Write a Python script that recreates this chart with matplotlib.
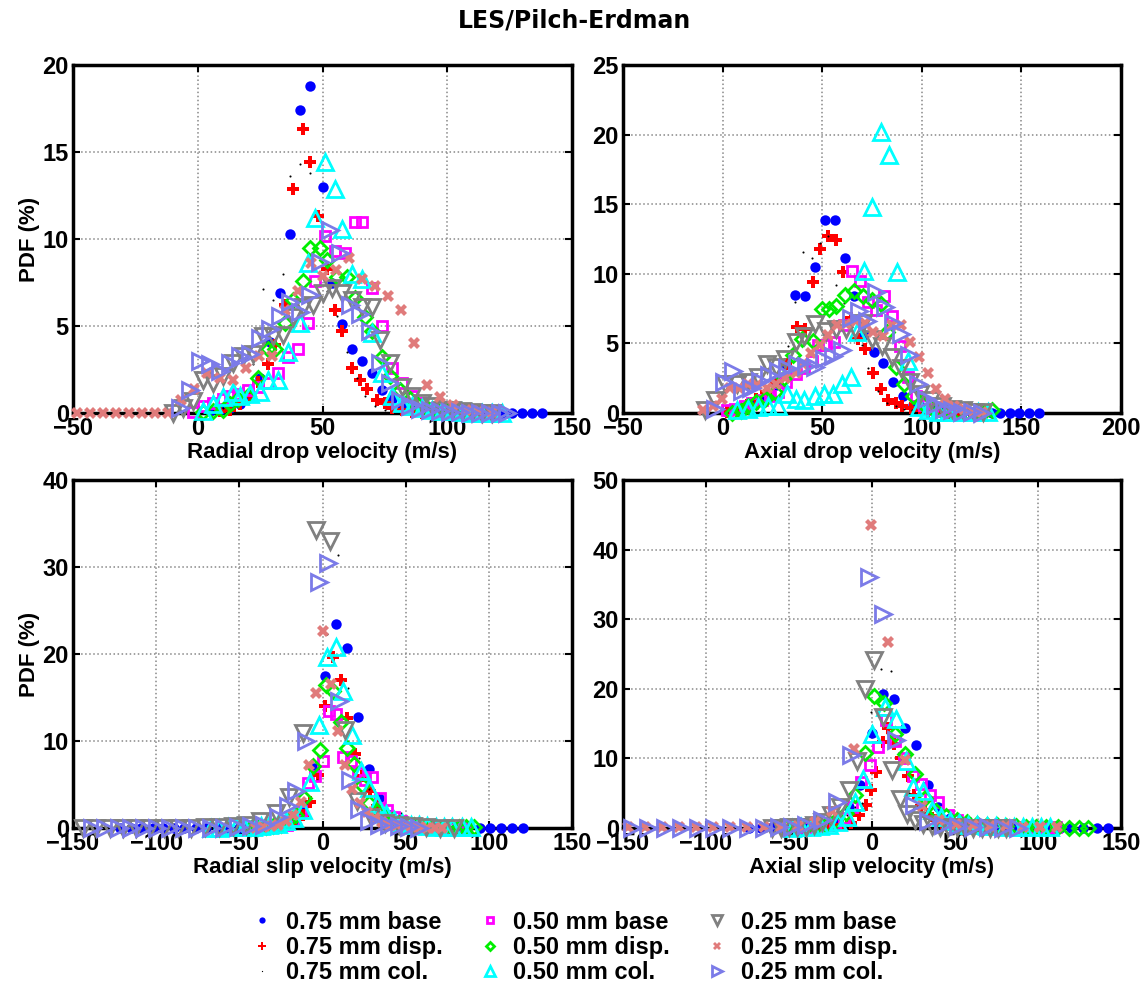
import matplotlib
matplotlib.use("Agg")
import matplotlib.pyplot as plt

plt.rcParams['font.family'] = ['Liberation Sans', 'DejaVu Sans']
plt.rcParams['font.weight'] = 'bold'

labels = ['0.75 mm base', '0.75 mm disp.', '0.75 mm col.',
          '0.50 mm base', '0.50 mm disp.', '0.50 mm col.',
          '0.25 mm base', '0.25 mm disp.', '0.25 mm col.']

# ---- radial drop velocity (top left)
rd_x = [
    [5, 9, 13, 17, 21, 25, 29, 33, 37, 41, 45, 50, 54, 58, 62, 66, 70, 74, 78, 82, 86, 90, 94, 98, 102, 106, 110, 114, 118, 122, 126, 130, 134, 138],
    [9, 13, 17, 21, 24, 28, 31, 35, 38, 42, 45, 48, 52, 55, 58, 62, 65, 68, 72, 75, 78, 82, 86, 90],
    [6, 10, 14, 18, 22, 26, 30, 34, 37, 41, 45, 49, 52, 56, 60, 64, 67, 71, 75, 79],
    [-2, 2, 6, 10, 13, 16, 20, 24, 28, 32, 36, 40, 44, 47, 51, 55, 59, 63, 66, 70, 74, 78, 82, 86, 90, 94, 98, 102, 106, 110, 114, 118],
    [2, 6, 10, 13, 16, 20, 24, 28, 31, 35, 38, 42, 45, 49, 52, 56, 60, 63, 67, 70, 74, 77, 81, 85, 88, 92, 96, 100, 104, 108],
    [2, 6, 10, 14, 17, 21, 25, 28, 32, 36, 41, 44, 47, 51, 55, 58, 62, 66, 70, 74, 78, 82, 86, 90, 94, 98, 102, 106, 110, 114, 118, 122],
    [-10, -6, -2, 2, 6, 10, 14, 18, 22, 26, 30, 34, 38, 42, 46, 50, 54, 58, 62, 66, 70, 73, 77, 82, 86, 90, 94, 98, 102, 106, 110, 114, 118],
    [-48.4, -43.2, -38, -32.8, -27.6, -22.4, -17.2, -12, -6.8, -1.6, 3.6, 8.8, 14, 19.2, 24.4, 29.6, 34.8, 40, 45.2, 50.4, 55.6, 60.8, 66, 71.2, 76.4, 81.6, 86.8, 92, 97.2, 102.4, 107.6, 112.8, 118],
    [-7, -3, 1, 5, 9, 13, 17, 21, 25, 29, 33, 37, 41, 45, 49, 53, 57, 61, 65, 69, 73, 77, 81, 85, 89, 93, 97, 101, 105, 109, 113, 117, 121, 124],
]
rd_y = [
    [0.1, 0.2, 0.3, 0.5, 1.0, 2.0, 4.1, 6.9, 10.3, 17.4, 18.8, 13.0, 7.5, 5.1, 3.7, 3.0, 2.3, 1.3, 0.8, 0.4, 0.2, 0.1, 0.05, 0.05, 0.02, 0, 0, 0, 0, 0, 0, 0, 0, 0],
    [0.1, 0.2, 0.5, 1.0, 1.8, 2.8, 3.9, 6.2, 12.9, 16.3, 14.4, 11.3, 8.3, 5.9, 4.7, 2.6, 1.9, 1.4, 0.75, 0.55, 0.3, 0.15, 0.05, 0.02],
    [0.1, 0.3, 0.6, 1.5, 2.8, 7.1, 6.5, 8.0, 13.6, 14.3, 13.8, 10.0, 7.0, 5.6, 3.5, 2.0, 1.0, 0.4, 0.2, 0.1],
    [0.05, 0.4, 0.6, 0.8, 1.0, 1.1, 1.3, 1.5, 1.7, 2.3, 3.2, 3.7, 5.2, 7.6, 10.2, 9.3, 9.2, 11.0, 11.0, 7.2, 5.0, 2.6, 1.7, 1.0, 0.6, 0.3, 0.2, 0.1, 0.05, 0.02, 0, 0],
    [0.05, 0.1, 0.2, 0.5, 0.8, 1.0, 2.0, 3.7, 3.7, 5.2, 6.5, 7.6, 9.5, 9.5, 8.8, 7.8, 7.8, 6.6, 5.5, 4.7, 3.2, 2.1, 1.3, 0.8, 0.5, 0.3, 0.2, 0.1, 0.05, 0.02],
    [0.1, 0.5, 0.9, 1.2, 1.0, 1.1, 1.2, 1.9, 1.9, 3.5, 5.2, 8.6, 11.2, 14.4, 12.9, 10.6, 8.0, 7.7, 4.6, 2.3, 1.0, 0.6, 0.4, 0.3, 0.2, 0.1, 0.1, 0.05, 0.02, 0, 0, 0],
    [0, 0.3, 0.7, 1.9, 1.7, 2.1, 2.9, 3.3, 3.4, 4.4, 4.4, 4.5, 5.5, 6.1, 6.2, 6.9, 7.2, 6.9, 6.5, 6.1, 6.1, 4.2, 2.9, 1.5, 1.0, 0.6, 0.4, 0.2, 0.15, 0.1, 0.05, 0.02, 0],
    [0, 0, 0, 0, 0, 0, 0, 0, 0.75, 1.4, 2.3, 2.0, 1.9, 2.6, 3.3, 3.3, 5.9, 7.0, 8.6, 7.9, 8.2, 8.9, 7.7, 7.3, 6.7, 5.9, 4.0, 1.6, 0.9, 0.45, 0.2, 0.1, 0.05],
    [0.3, 1.3, 3.0, 2.8, 2.4, 2.9, 3.3, 3.4, 4.3, 4.8, 5.6, 6.4, 5.8, 6.8, 8.7, 10.5, 9.2, 6.2, 5.7, 4.7, 2.9, 1.7, 0.75, 0.4, 0.25, 0.15, 0.1, 0.05, 0.05, 0.02, 0, 0, 0, 0],
]

# ---- axial drop velocity (top right)
ad_x = [
    [2, 7, 12, 17, 22, 27, 32, 36.5, 41.5, 46.5, 51.3, 56.2, 61.2, 66.2, 71, 75.8, 80.7, 85.7, 90.5, 95.4, 100.3, 105.2, 110, 115, 120, 125, 130, 135, 139.5, 144.2, 149, 153.8, 158.9],
    [2, 7, 12, 17, 22, 27, 32, 37.2, 41.5, 45.3, 48.8, 52.8, 56.7, 60.3, 64.5, 68, 71.6, 75.5, 79.6, 83.2, 86.8, 90.3, 94.8, 99, 103, 108, 113, 118],
    [3, 8, 13, 18, 23, 28, 32.7, 36.5, 40.6, 44.9, 48.7, 53.1, 56.9, 61, 65, 69.8, 73.2, 77.8, 82.3, 86.8, 91, 95, 100, 105],
    [2, 6, 11, 15, 20, 24, 28, 32, 37, 41, 45, 48, 52, 56, 61, 65, 69, 73, 77, 81, 85, 89, 93, 97, 101, 105, 110, 114, 118],
    [4.5, 9, 13, 17, 21.5, 26.5, 31, 35.5, 40, 45.5, 50, 53.5, 57, 61.5, 66, 70.5, 75, 79.5, 82.3, 86.8, 91.2, 95.7, 100, 104.5, 109, 113.5, 118, 122.5, 127, 131, 135],
    [7, 12.5, 18, 23, 27.7, 32.2, 36.7, 41.1, 46.5, 51, 55.5, 60, 64.4, 67.7, 71, 75, 79.6, 83.5, 87.7, 93, 98.4, 103, 108, 113, 118, 123, 128, 133],
    [-8.9, -3.9, 1.4, 7.2, 12.5, 17.9, 22.4, 26.8, 31.3, 36.7, 41.1, 46.5, 51.9, 57, 62, 66.5, 70.7, 75.1, 80.1, 85, 89.4, 94, 99.3, 104.6, 110, 115, 120.7, 126, 130.6],
    [-9.8, -5, -0.4, 3.9, 8, 12.5, 17.5, 22.4, 27, 31.5, 36.7, 40.5, 44.4, 48.7, 53, 57.2, 61.7, 67, 71.6, 75.7, 80.5, 85.2, 89.4, 94, 98.4, 102.9, 107.3, 111.8, 116.3, 121, 125.5, 130],
    [-3.6, 0.9, 5.4, 9.8, 14.3, 18.8, 23.3, 27.7, 32.2, 37.6, 42, 46.5, 51, 55.5, 59.9, 64.4, 68.3, 72.5, 76.9, 81.4, 85.3, 89.4, 93.4, 98, 102, 106.4, 111, 115, 120, 125, 130],
]
ad_y = [
    [0.1, 0.3, 0.5, 0.8, 1.2, 2.0, 3.5, 8.5, 8.4, 10.5, 13.9, 13.9, 11.1, 8.4, 5.6, 4.4, 3.6, 2.2, 1.2, 0.6, 0.4, 0.2, 0.1, 0.05, 0.02, 0.02, 0.01, 0.01, 0, 0, 0, 0, 0],
    [0.1, 0.3, 0.6, 1.0, 1.5, 2.2, 3.5, 6.2, 6.0, 9.4, 11.8, 12.7, 12.4, 10.1, 6.8, 5.3, 4.6, 2.9, 1.7, 0.9, 0.7, 0.5, 0.35, 0.2, 0.1, 0.05, 0.02, 0],
    [0.1, 0.3, 0.6, 1.0, 1.5, 2.5, 4.8, 8.0, 11.6, 11.1, 12.2, 12.7, 9.2, 7.9, 6.2, 4.9, 3.2, 1.6, 0.75, 0.5, 0.3, 0.2, 0.1, 0.05],
    [0.2, 0.3, 0.5, 0.7, 0.9, 1.2, 1.5, 2.2, 2.8, 3.2, 3.7, 4.9, 4.9, 5.1, 6.3, 10.2, 9.5, 8.0, 7.4, 8.4, 7.0, 4.8, 2.6, 1.2, 0.6, 0.3, 0.15, 0.05, 0],
    [0, 0.17, 0.5, 0.8, 1.0, 1.5, 2.5, 4.2, 5.3, 5.2, 7.5, 7.5, 7.7, 8.5, 8.8, 8.4, 8.1, 7.8, 5.8, 3.3, 2.1, 1.2, 0.7, 0.4, 0.3, 0.2, 0.15, 0.1, 0.1, 0.1, 0.2],
    [0.2, 0.3, 0.4, 0.5, 0.5, 1.4, 1.0, 0.9, 1.2, 1.4, 1.4, 2.1, 2.6, 5.8, 10.2, 14.8, 20.2, 18.5, 10.1, 3.7, 0.4, 0.2, 0.1, 0.1, 0.05, 0.05, 0.05, 0.1],
    [0.2, 0.9, 2.1, 2.1, 2.2, 2.6, 3.5, 3.3, 3.9, 5.1, 5.5, 6.4, 5.9, 6.0, 6.0, 6.0, 6.5, 5.3, 4.8, 4.0, 3.2, 2.2, 1.4, 0.9, 0.5, 0.3, 0.2, 0.1, 0.05],
    [0.2, 0.5, 1.0, 1.8, 1.8, 2.1, 2.0, 1.8, 2.1, 2.5, 2.9, 3.5, 4.3, 4.9, 5.6, 6.3, 6.4, 6.6, 6.5, 5.8, 5.5, 6.3, 6.3, 5.1, 4.0, 2.9, 1.7, 1.0, 0.5, 0.3, 0.15, 0.05],
    [0.3, 2.2, 3.0, 1.6, 1.8, 2.3, 2.7, 3.0, 3.2, 3.5, 3.4, 3.3, 3.9, 4.1, 4.5, 6.8, 7.3, 6.6, 8.7, 7.6, 6.5, 5.7, 4.2, 2.1, 1.0, 0.6, 0.3, 0.2, 0.1, 0.05, 0.02],
]

# ---- radial slip velocity (bottom left)
rs_x = [
    [-122, -115, -109, -102, -96, -89, -83, -76, -70, -63, -57, -50, -44, -37.6, -31, -24.6, -18, -11.6, -5.1, 1.4, 8, 14.6, 21.2, 27.7, 34.2, 40.8, 47.3, 53.8, 60.4, 67, 73.4, 80, 86.5, 94.4, 100.8, 107.4, 114, 120.5],
    [-30, -25.5, -21, -16.5, -12, -7.5, -3, 1.5, 6.6, 11, 15, 19.5, 24, 28.5, 33, 37.5, 42, 46.5, 51, 55.5, 60],
    [-34.8, -28.5, -22.2, -15.9, -9.6, -3.3, 3, 9.3, 15.6, 21.9, 28.2, 34.5, 40.8, 47.1, 53.4, 59.7, 66],
    [-30, -25.8, -21.5, -17.2, -12.9, -8.6, -4.3, 0, 4, 8, 12.5, 17, 21.5, 25.8, 30, 34.4, 38.7, 43, 47.3, 51.6, 56, 60, 64.5, 69, 73, 77.5, 82, 86],
    [-43, -38.5, -34, -29.5, -25, -20.5, -16, -11, -6, -1.6, 2, 6.4, 11, 15, 19, 23.7, 28, 32.5, 37, 41.5, 46, 50.5, 55, 59.5, 64, 68.5, 73, 77.5, 82, 86.5, 91],
    [-67, -62, -57, -52, -47, -42, -37, -32, -27, -22, -17, -12, -7.4, -2.4, 2.6, 8, 12.5, 17.5, 23, 28, 33, 38, 43, 48, 53, 58, 63, 68, 73, 78, 84, 89],
    [-144, -136, -128, -120, -112, -103.6, -95.4, -87, -79, -70.6, -62.4, -54, -46, -37.6, -28, -20, -11.6, -4, 4.4, 13.6, 21, 29.4, 37.6, 46, 54.2, 62.4, 70.6, 79.3],
    [-40, -35.5, -31, -26.5, -22, -17.5, -13, -8, -4, 0.6, 5, 9.6, 13.4, 18, 22.5, 27, 31.5, 36, 40.5, 45, 49.5, 54, 58.5, 63, 67.5, 72],
    [-138.6, -130.5, -122.5, -115, -107.4, -99.4, -91.4, -83.3, -75.3, -67, -59, -51, -43, -35, -27, -21, -16, -10, -2.4, 3.6, 10, 16.5, 22, 28, 34, 40, 46, 52, 58],
]
rs_y = [
    [0, 0, 0, 0, 0, 0, 0, 0, 0, 0.02, 0.03, 0.05, 0.1, 0.1, 0.15, 0.3, 0.8, 2.5, 6.9, 17.5, 23.5, 20.7, 12.8, 6.8, 3.4, 1.5, 0.7, 0.4, 0.2, 0.1, 0.05, 0.03, 0.02, 0, 0, 0, 0, 0],
    [0.1, 0.2, 0.4, 0.8, 1.5, 3.0, 6.1, 14.0, 19.6, 17.0, 12.7, 8.5, 6.0, 4.2, 2.5, 1.5, 0.8, 0.4, 0.2, 0.1, 0.05],
    [0.1, 0.2, 0.5, 1.5, 3.0, 5.5, 22.3, 31.4, 16.1, 8.0, 4.5, 2.5, 1.8, 1.7, 0.5, 0.2, 0.1],
    [0.1, 0.2, 0.4, 0.8, 2.0, 5.2, 6.0, 7.7, 13.5, 13.1, 8.2, 7.7, 6.3, 5.5, 5.9, 3.4, 2.1, 1.3, 0.8, 0.5, 0.3, 0.2, 0.15, 0.1, 0.05, 0.05, 0.05, 0.05],
    [0.02, 0.05, 0.1, 0.2, 0.4, 0.8, 1.5, 3.5, 7.1, 9, 16.4, 15.8, 12.2, 9.2, 7.3, 5.0, 2.9, 2.0, 1.4, 0.9, 0.6, 0.4, 0.3, 0.2, 0.15, 0.1, 0.1, 0.1, 0.1, 0.1, 0.1],
    [0.05, 0.05, 0.1, 0.1, 0.1, 0.15, 0.2, 0.3, 0.5, 0.8, 1.2, 2.1, 5.3, 11.8, 19.6, 20.8, 15.8, 10.7, 6.5, 4.6, 2.8, 1.6, 0.9, 0.6, 0.4, 0.3, 0.2, 0.15, 0.1, 0.1, 0.1, 0.1],
    [0, 0.02, 0.02, 0.02, 0.03, 0.03, 0.04, 0.05, 0.05, 0.06, 0.1, 0.2, 0.4, 0.8, 1.7, 3.6, 10.9, 34.2, 33.0, 11.3, 3.1, 1.3, 0.6, 0.3, 0.2, 0.1, 0.05, 0.02],
    [0.05, 0.1, 0.2, 0.4, 0.8, 1.5, 3.0, 7.2, 15.5, 22.7, 16.5, 11.2, 7.2, 4.5, 2.9, 1.8, 1.1, 0.7, 0.4, 0.3, 0.2, 0.1, 0.1, 0.05, 0.05, 0.02],
    [0, 0, 0, 0, 0, 0, 0, 0, 0, 0, 0.05, 0.1, 0.2, 0.4, 1.3, 2.5, 4.2, 10.0, 28.3, 30.5, 14.6, 5.5, 2.2, 0.8, 0.4, 0.3, 0.2, 0.1, 0.05],
]

# ---- axial slip velocity (bottom right)
as_x = [
    [-74, -67, -60.5, -54, -47, -40.5, -34, -27, -20.5, -14, -7, 0, 6.4, 13.3, 19.8, 26.6, 33.7, 40, 46.7, 53.4, 60, 67, 73.5, 80, 87, 93.5, 100, 107, 113.5, 120, 127, 135.8, 142],
    [-33, -28, -23, -18, -12.8, -7.8, -3.8, -0.5, 2.6, 6.6, 9.6, 13.5, 17.7, 21.5, 25.3, 29.5, 33.5, 38, 42, 46, 50, 55, 60],
    [-95, -80, -65, -50, -40, -30, -25, -20, -15, -10, -5.8, -0.4, 5.6, 11.6, 17, 22, 27, 32, 37, 42, 47],
    [-40, -34, -28, -22, -17, -12, -6.5, -1.5, 3.6, 8.6, 14, 19, 24.5, 29.7, 35, 40, 45.5, 51, 56, 61, 66, 71, 76, 81, 86, 91, 96, 101, 106, 111],
    [-52, -46, -40, -34, -28, -22, -15.7, -10.3, -4.5, 1.5, 7.5, 14, 19.8, 26.2, 32.2, 38.7, 44.5, 51, 57, 63, 69, 75, 81, 87, 93, 99, 105, 112, 118.6, 124.6, 130.4],
    [-48, -42.5, -37, -31.5, -26, -20.5, -15, -10, -5.2, -0.2, 8.1, 14.3, 20.2, 24.6, 30.8, 36, 41.5, 47, 52.5, 58, 63.5, 69, 74.5, 80, 85.5, 91, 96.5, 102, 107],
    [-60, -55, -50, -45, -40, -35, -30, -25, -19, -14, -9, -4, 1, 6.6, 12, 17, 21, 26, 31, 36, 41, 46, 51, 56, 61, 66, 71, 76, 81],
    [-146.7, -136.5, -126.3, -116, -105.8, -95.6, -85.4, -75.2, -65, -54.8, -44.6, -34.4, -24.2, -11, -0.6, 9.5, 19.7, 30, 40.2, 50.4, 60.6, 70.8, 81, 91.2, 101.4, 111.6],
    [-144.6, -135, -125, -115, -105, -95, -85, -75, -65, -56, -48, -39.5, -30, -21, -12.5, -2.1, 6.9, 14.4, 25, 34, 43, 52, 61, 70, 79, 88],
]
as_y = [
    [0.05, 0.05, 0.1, 0.1, 0.1, 0.2, 0.4, 0.8, 1.5, 3.0, 6.2, 13.6, 19.2, 18.6, 14.3, 11.9, 6.2, 3.0, 1.5, 0.8, 0.5, 0.3, 0.2, 0.15, 0.1, 0.1, 0.1, 0.05, 0.05, 0.05, 0.05, 0, 0],
    [0.1, 0.2, 0.3, 0.5, 0.7, 1.9, 3.3, 5.5, 8.1, 12.3, 14.3, 12.0, 10.0, 7.5, 4.8, 3.2, 2.0, 1.2, 0.7, 0.4, 0.2, 0.1, 0.05],
    [0.1, 0.1, 0.1, 0.1, 0.15, 0.2, 0.5, 1.0, 1.8, 3.0, 3.6, 16.6, 22.8, 22.6, 10, 5, 3, 1.5, 0.8, 0.4, 0.2],
    [0.1, 0.2, 0.4, 0.8, 1.5, 3.0, 6.6, 9.0, 11.7, 15.5, 12.5, 10.0, 7.5, 6.3, 4.8, 3.8, 1.9, 1.1, 0.7, 0.5, 0.4, 0.3, 0.3, 0.2, 0.2, 0.2, 0.2, 0.2, 0.2, 0.1],
    [0.1, 0.15, 0.2, 0.3, 0.5, 1.0, 2.1, 4.8, 10.8, 19.0, 18.0, 13.5, 10.7, 7.8, 4.3, 2.4, 1.7, 1.2, 0.8, 0.6, 0.5, 0.4, 0.3, 0.3, 0.2, 0.2, 0.15, 0.1, 0.05, 0.05, 0.05],
    [0.05, 0.1, 0.15, 0.3, 0.5, 0.9, 1.6, 3.8, 7.0, 13.5, 17.4, 15.6, 9.6, 5.9, 5.3, 2.6, 1.6, 1.0, 0.7, 0.5, 0.4, 0.3, 0.3, 0.2, 0.2, 0.2, 0.2, 0.2, 0.2],
    [0.05, 0.05, 0.1, 0.1, 0.2, 0.4, 0.9, 1.9, 3.0, 5.4, 9.6, 20.0, 24.1, 16.0, 8.4, 4.1, 2.0, 1.2, 0.6, 0.3, 0.2, 0.1, 0.1, 0.05, 0.05, 0.05, 0.05, 0.05, 0.05],
    [0.1, 0.1, 0.1, 0.1, 0.1, 0.1, 0.1, 0.1, 0.1, 0.15, 0.3, 0.8, 2.5, 11.4, 43.5, 26.7, 9.7, 3.1, 1.2, 0.6, 0.4, 0.3, 0.3, 0.2, 0.2, 0.2],
    [0, 0, 0, 0, 0, 0, 0, 0, 0, 0.1, 0.2, 0.5, 1.2, 3.8, 10.5, 36.0, 30.7, 12.6, 3.3, 1.0, 0.5, 0.3, 0.2, 0.1, 0.05, 0.02],
]

# marker styles per series
styles = [
    dict(marker='o', color='#0000ff', ms=7.5, mfc='#0000ff', mew=0),
    dict(marker='P', color='#ff0000', ms=8.5, mfc='#ff0000', mew=0),
    dict(marker='.', color='black', ms=3, mfc='black', mew=0),
    dict(marker='s', color='#ff00ff', ms=7.5, mfc='none', mew=2),
    dict(marker='D', color='#00ee00', ms=7.5, mfc='none', mew=2),
    dict(marker='^', color='#00ffff', ms=12, mfc='none', mew=2),
    dict(marker='v', color='#808080', ms=12, mfc='none', mew=2),
    dict(marker='X', color='#e07b7b', ms=8.5, mfc='#e07b7b', mew=0),
    dict(marker='>', color='#7b7be8', ms=12, mfc='none', mew=2),
]

fig = plt.figure(figsize=(11.48, 9.94), dpi=100)
W, H = 1148.0, 994.0

def add_axes(l, t, r, b):
    return fig.add_axes([l / W, 1 - b / H, (r - l) / W, (b - t) / H])

panels = [
    (add_axes(73, 65, 572, 413), rd_x, rd_y, (-50, 150), (0, 20), 'Radial drop velocity (m/s)', True),
    (add_axes(623, 65, 1121, 413), ad_x, ad_y, (-50, 200), (0, 25), 'Axial drop velocity (m/s)', False),
    (add_axes(73, 480, 572, 828), rs_x, rs_y, (-150, 150), (0, 40), 'Radial slip velocity (m/s)', True),
    (add_axes(623, 480, 1121, 828), as_x, as_y, (-150, 150), (0, 50), 'Axial slip velocity (m/s)', False),
]

handles = []
for ax, xs, ys, xlim, ylim, xlabel, ylab in panels:
    hs = []
    for i in range(9):
        st = styles[i]
        h, = ax.plot(xs[i], ys[i], linestyle='none', marker=st['marker'], color=st['color'],
                     markersize=st['ms'], markerfacecolor=st['mfc'], markeredgewidth=st['mew'],
                     clip_on=False, zorder=3 + i)
        hs.append(h)
    handles = hs
    ax.set_xlim(*xlim)
    ax.set_ylim(*ylim)
    ax.grid(True, linestyle=':', color='#888888', linewidth=1.1)
    ax.tick_params(direction='in', top=True, right=True, length=5, width=1.5,
                   labelsize=17, pad=3)
    for lab in ax.get_xticklabels() + ax.get_yticklabels():
        lab.set_fontweight('bold')
    for sp in ax.spines.values():
        sp.set_linewidth(2.5)
    ax.set_xlabel(xlabel, fontsize=16, fontweight='bold', labelpad=1)
    if ylab:
        ax.set_ylabel('PDF (%)', fontsize=16, fontweight='bold', labelpad=2)

fig.text(0.5, 1 - 20 / H, 'LES/Pilch-Erdman', ha='center', va='center',
         fontsize=17, fontweight='bold', family='DejaVu Sans')

fig.legend(handles, labels, loc='upper center', bbox_to_anchor=(0.5, 1 - 894 / H),
           ncol=3, frameon=False, markerscale=0.6, handlelength=1.0,
           handletextpad=0.5, columnspacing=1.5, labelspacing=0.1,
           borderpad=0.2, prop={'weight': 'bold', 'size': 17})

fig.savefig('out.png', dpi=100)
